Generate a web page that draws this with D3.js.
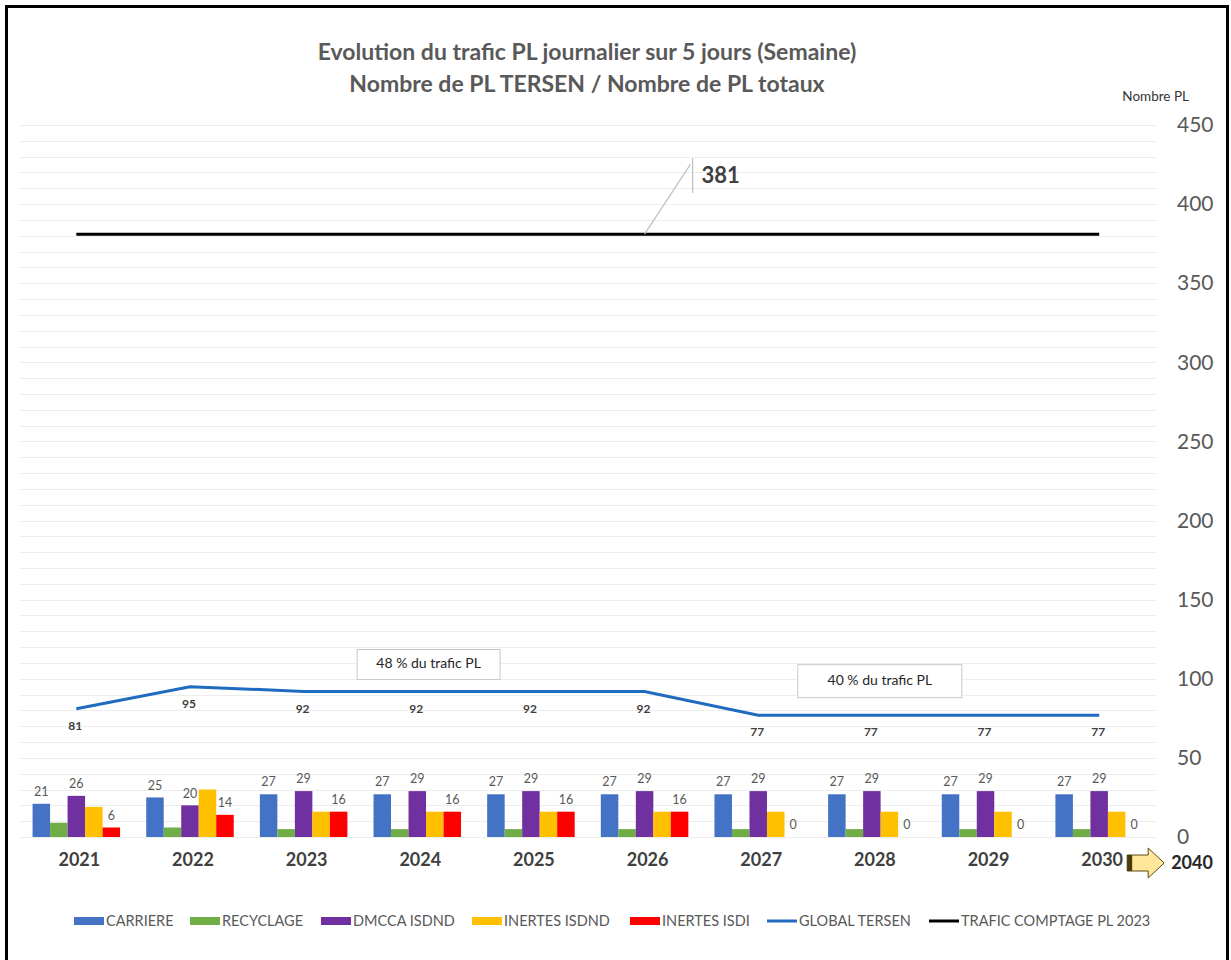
<!DOCTYPE html>
<html>
<head>
<meta charset="utf-8">
<script src="https://cdn.jsdelivr.net/npm/d3@7"></script>
<style>
  body { margin: 0; background: #fff; }
  text { font-family: Lato, "Open Sans", sans-serif; }
</style>
</head>
<body>
<div id="chart"></div>
<script>
// ---- data ----
const years = ["2021", "2022", "2023", "2024", "2025", "2026", "2027", "2028", "2029", "2030"];
const carriere     = [21, 25, 27, 27, 27, 27, 27, 27, 27, 27];
const recyclage    = [9, 6, 5, 5, 5, 5, 5, 5, 5, 5];
const dmccaIsdnd   = [26, 20, 29, 29, 29, 29, 29, 29, 29, 29];
const inertesIsdnd = [19, 30, 16, 16, 16, 16, 16, 16, 16, 16];
const inertesIsdi  = [6, 14, 16, 16, 16, 16, 0, 0, 0, 0];
const globalTersen = [81, 95, 92, 92, 92, 92, 77, 77, 77, 77];
const traficComptage = [381, 381, 381, 381, 381, 381, 381, 381, 381, 381];
const yTicks = [0, 50, 100, 150, 200, 250, 300, 350, 400, 450];

const barSeries = [
  {name: "CARRIERE", values: carriere, color: "#4472C4", label: true},
  {name: "RECYCLAGE", values: recyclage, color: "#70AD47", label: false},
  {name: "DMCCA ISDND", values: dmccaIsdnd, color: "#7030A0", label: true},
  {name: "INERTES ISDND", values: inertesIsdnd, color: "#FFC000", label: false},
  {name: "INERTES ISDI", values: inertesIsdi, color: "#FF0000", label: true}
];
const lineSeries = [
  {name: "GLOBAL TERSEN", values: globalTersen, color: "#1F6BC0"},
  {name: "TRAFIC COMPTAGE PL 2023", values: traficComptage, color: "#000000"}
];
const notes = [
  {text: "48 % du trafic PL", idx: 3.1, value: 109, w: 143, h: 30},
  {text: "40 % du trafic PL", idx: 7.07, value: 98.5, w: 164, h: 33}
];

// ---- layout ----
const W = 1231, H = 960;
const plot = {left: 19.5, right: 1156, top: 125, bottom: 837};

const svg = d3.select("#chart").append("svg")
    .attr("width", W).attr("height", H);

// frame
svg.append("rect")
    .attr("x", 6.5).attr("y", 6.5)
    .attr("width", 1221).attr("height", 965)
    .attr("fill", "none").attr("stroke", "#000").attr("stroke-width", 3);

// scales
const x = d3.scaleBand().domain(years)
    .range([plot.left, plot.right])
    .paddingInner(0.23).paddingOuter(0.115);
const xSub = d3.scaleBand().domain(barSeries.map(d => d.name))
    .range([0, x.bandwidth()]);
const y = d3.scaleLinear().domain([0, 450]).range([plot.bottom, plot.top]);
const xMid = i => plot.left + x.step() * (i + 0.5);

// gridlines every 10
svg.append("g").selectAll("line")
    .data(d3.range(0, 451, 10))
    .join("line")
    .attr("x1", plot.left).attr("x2", plot.right)
    .attr("y1", d => Math.round(y(d)) + 0.5).attr("y2", d => Math.round(y(d)) + 0.5)
    .attr("stroke", "#ededed").attr("stroke-width", 1);

// title
const title = svg.append("text")
    .attr("text-anchor", "middle")
    .attr("fill", "#595959").attr("font-weight", "bold").attr("font-size", 23);
title.append("tspan").attr("x", 587).attr("y", 60)
    .text("Evolution du trafic PL journalier sur 5 jours (Semaine)");
title.append("tspan").attr("x", 587).attr("y", 92)
    .text("Nombre de PL TERSEN / Nombre de PL totaux");

// right axis
const yAxis = svg.append("g")
    .attr("transform", `translate(${plot.right},0)`)
    .call(d3.axisRight(y).tickValues(yTicks).tickSize(0).tickPadding(21));
yAxis.select(".domain").remove();
yAxis.selectAll("text")
    .attr("fill", "#595959").attr("font-size", 21)
    .style("font-family", "Lato, sans-serif");

svg.append("text")
    .attr("x", 1189).attr("y", 101)
    .attr("text-anchor", "end")
    .attr("fill", "#333").attr("font-size", 13.5)
    .text("Nombre PL");

// x axis (years)
const xAxis = svg.append("g")
    .attr("transform", `translate(0,${plot.bottom})`)
    .call(d3.axisBottom(x).tickSize(0).tickPadding(16));
xAxis.select(".domain").remove();
xAxis.selectAll("text")
    .attr("dx", 3)
    .attr("fill", "#404040").attr("font-size", 18).attr("font-weight", "bold")
    .style("font-family", "Lato, sans-serif");

// bars
const groups = svg.append("g").selectAll("g")
    .data(years)
    .join("g")
    .attr("transform", d => `translate(${x(d)},0)`);

groups.selectAll("rect")
    .data((yr, i) => barSeries.map(s => ({s, v: s.values[i]})))
    .join("rect")
    .attr("x", d => xSub(d.s.name))
    .attr("width", xSub.bandwidth())
    .attr("y", d => y(d.v))
    .attr("height", d => y(0) - y(d.v))
    .attr("fill", d => d.s.color);

groups.selectAll("text")
    .data((yr, i) => barSeries.filter(s => s.label).map(s => ({s, v: s.values[i]})))
    .join("text")
    .attr("x", d => xSub(d.s.name) + xSub.bandwidth() / 2)
    .attr("y", d => y(d.v) - 11)
    .attr("text-anchor", "middle")
    .attr("dominant-baseline", "middle")
    .attr("fill", "#595959").attr("font-size", 12.5)
    .text(d => d.v);

// lines
const line = d3.line().x((d, i) => xMid(i)).y(d => y(d));
svg.append("g").selectAll("path")
    .data(lineSeries)
    .join("path")
    .attr("d", d => line(d.values))
    .attr("fill", "none")
    .attr("stroke", d => d.color)
    .attr("stroke-width", 3);

// global tersen labels under the points
svg.append("g").selectAll("text")
    .data(globalTersen)
    .join("text")
    .attr("x", (d, i) => xMid(i) - 1)
    .attr("y", d => y(d) + 18)
    .attr("text-anchor", "middle")
    .attr("dominant-baseline", "middle")
    .attr("fill", "#404040").attr("font-size", 12).attr("font-weight", "bold")
    .text(d => d);

// 381 callout on the 2026 point
const cx = xMid(5), cy = y(traficComptage[5]);
svg.append("path")
    .attr("d", `M${cx},${cy} L${cx + 46},${cy - 70}`)
    .attr("stroke", "#bfbfbf").attr("fill", "none").attr("stroke-width", 1.2);
svg.append("line")
    .attr("x1", cx + 48).attr("x2", cx + 48)
    .attr("y1", cy - 76).attr("y2", cy - 41)
    .attr("stroke", "#bfbfbf").attr("stroke-width", 1.2);
svg.append("text")
    .attr("x", cx + 57).attr("y", cy - 57)
    .attr("dominant-baseline", "middle")
    .attr("fill", "#404040").attr("font-size", 22).attr("font-weight", "bold")
    .text(traficComptage[5]);

// share boxes
const nb = svg.append("g").selectAll("g")
    .data(notes)
    .join("g")
    .attr("transform", d => `translate(${xMid(d.idx)},${y(d.value)})`);
nb.append("rect")
    .attr("x", d => -d.w / 2).attr("y", d => -d.h / 2)
    .attr("width", d => d.w).attr("height", d => d.h)
    .attr("fill", "#fff").attr("stroke", "#c8c8c8").attr("stroke-width", 1);
nb.append("text")
    .attr("text-anchor", "middle").attr("dominant-baseline", "middle")
    .attr("fill", "#262626").attr("font-size", 14)
    .text(d => d.text);

// 2040 arrow after the last year
const ax = xMid(9) + 28, ay = plot.bottom + 26;
svg.append("path")
    .attr("d", `M${ax},${ay - 8} L${ax + 21},${ay - 8} L${ax + 21},${ay - 15} L${ax + 37},${ay}
                L${ax + 21},${ay + 15} L${ax + 21},${ay + 8} L${ax},${ay + 8} Z`)
    .attr("fill", "#FFE699").attr("stroke", "#5a4a10").attr("stroke-width", 1);
svg.append("rect")
    .attr("x", ax).attr("y", ay - 8).attr("width", 5).attr("height", 16)
    .attr("fill", "#4a3c0c");
svg.append("text")
    .attr("x", ax + 44).attr("y", ay + 1)
    .attr("dominant-baseline", "middle")
    .attr("fill", "#262626").attr("font-size", 18).attr("font-weight", "bold")
    .text("2040");

// legend
const legendItems = barSeries.map(s => ({name: s.name, color: s.color, type: "bar"}))
    .concat(lineSeries.map(s => ({name: s.name, color: s.color, type: "line"})));
const legendX = [74, 190, 321, 472, 630, 767, 929];
const lg = svg.append("g").selectAll("g")
    .data(legendItems)
    .join("g")
    .attr("transform", (d, i) => `translate(${legendX[i]},921)`);
lg.filter(d => d.type === "bar").append("rect")
    .attr("x", 0).attr("y", -4).attr("width", 30).attr("height", 8)
    .attr("fill", d => d.color);
lg.filter(d => d.type === "line").append("line")
    .attr("x1", 0).attr("x2", 30).attr("y1", 0).attr("y2", 0)
    .attr("stroke", d => d.color).attr("stroke-width", 3);
lg.append("text")
    .attr("x", 32).attr("y", 1)
    .attr("dominant-baseline", "middle")
    .attr("fill", "#595959").attr("font-size", 14.5)
    .text(d => d.name);
</script>
</body>
</html>
